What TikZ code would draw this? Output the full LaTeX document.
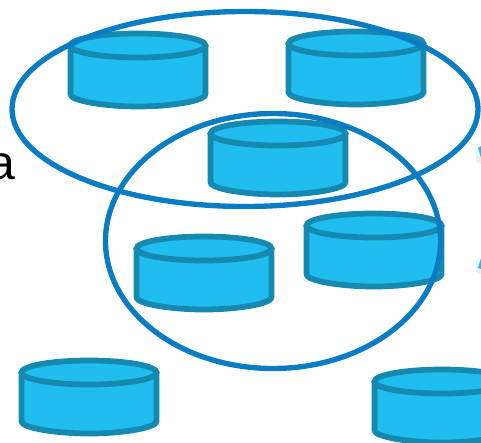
\documentclass[tikz,border=0pt]{standalone}
\usepackage{fontspec}
\newfontfamily\labelfont{Liberation Sans}
\definecolor{cylfill}{HTML}{20BDF0}
\definecolor{cylline}{HTML}{1689B0}
\definecolor{ringblue}{HTML}{0A7CC4}
\definecolor{markshade}{HTML}{EEEEEE}
\tikzset{
  x=0.75pt,y=-0.75pt,
  cyl/.pic={
    \fill[cylfill] (-67.5,0) -- (-67.5,49) .. controls (-67.5,55) and (-35,61) .. (0,61) .. controls (35,61) and (67.5,55) .. (67.5,49) -- (67.5,0) -- cycle;
    \fill[cylfill] (0,0) ellipse[x radius=67.5,y radius=12];
    \draw[cylline,line width=4.3pt,line join=round] (-67.5,0) -- (-67.5,49) .. controls (-67.5,55) and (-35,61) .. (0,61) .. controls (35,61) and (67.5,55) .. (67.5,49) -- (67.5,0);
    \draw[cylline,line width=4.3pt] (0,0) ellipse[x radius=67.5,y radius=12];
  },
  ring/.style={draw=ringblue,line width=4pt},
  markblue/.style={fill=cylfill},
  markgrey/.style={fill=markshade}
}
\begin{document}
\begin{tikzpicture}
\useasboundingbox (0,0) rectangle (481,442);
\begin{scope}
\clip (0,0) rectangle (481,442);
\node[anchor=base east,font=\labelfont\fontsize{36pt}{40pt}\selectfont,inner sep=0pt] (lettera) at (15.5,179) {a};
\path[markgrey] (476,154) -- (481,158) -- (481,164) -- (476,162) -- cycle;
\path[markgrey] (476,262) -- (478,262) -- (481,270) -- (481,274) -- (476,272) -- cycle;
\path[markblue] (478,148) -- (481,146) -- (481,158) -- cycle;
\path[markblue] (478,268) -- (481,258) -- (481,269) -- cycle;
\pic at (138,45.5) {cyl};
\pic at (356,43.5) {cyl};
\pic at (278,133.5) {cyl};
\pic at (204,248.5) {cyl};
\pic at (374,225.5) {cyl};
\pic at (89,372.5) {cyl};
\pic at (442,381.5) {cyl};
\draw[ring] (245,109) ellipse[x radius=233,y radius=97.5];
\draw[ring] (273,241) ellipse[x radius=167.5,y radius=127.5];
\end{scope}
\end{tikzpicture}
\end{document}
